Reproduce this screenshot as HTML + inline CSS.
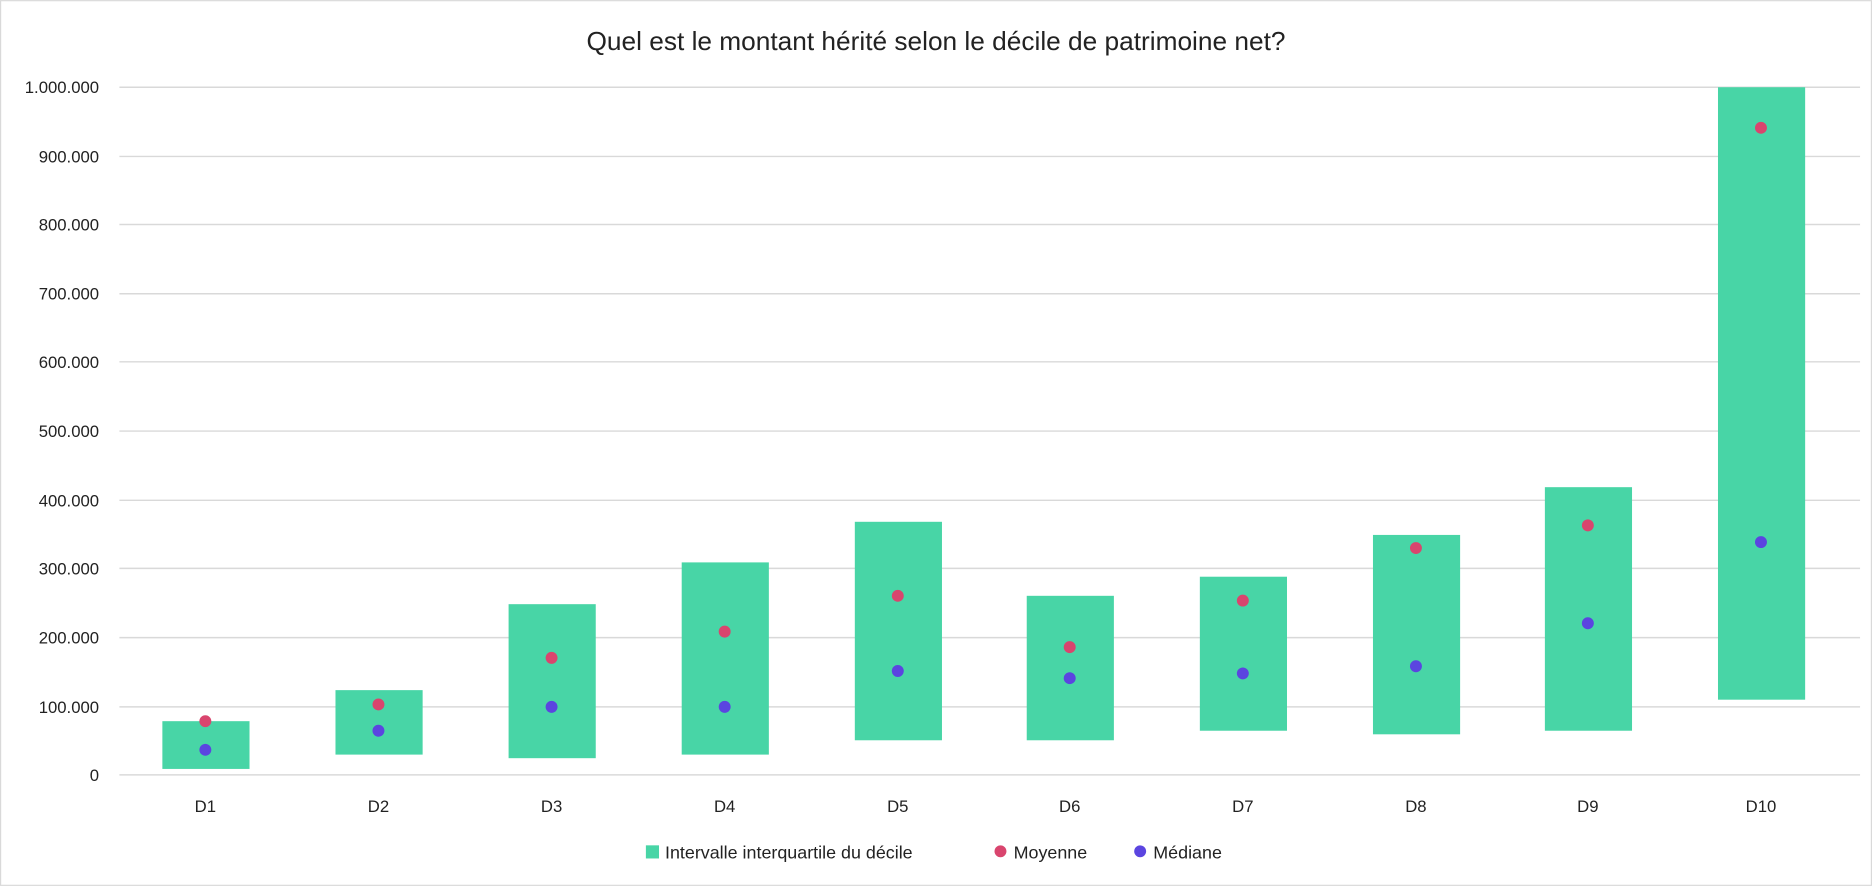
<!DOCTYPE html>
<html><head><meta charset="utf-8"><style>
html,body{margin:0;padding:0;background:#fff;}
svg{display:block;font-family:"Liberation Sans",sans-serif;}
</style></head><body>
<svg width="1872" height="886" viewBox="0 0 1568 742" xmlns="http://www.w3.org/2000/svg">
<rect x="0.5" y="0.5" width="1567" height="741" fill="#fff" stroke="#d9d9d9"/>
<text x="784" y="42" text-anchor="middle" font-size="22" fill="#222">Quel est le montant hérité selon le décile de patrimoine net?</text>
<g stroke="#d9d9d9" stroke-width="1.2">
<line x1="100" x2="1558" y1="73" y2="73"/><line x1="100" x2="1558" y1="131" y2="131"/>
<line x1="100" x2="1558" y1="188" y2="188"/><line x1="100" x2="1558" y1="246" y2="246"/>
<line x1="100" x2="1558" y1="303" y2="303"/><line x1="100" x2="1558" y1="361" y2="361"/>
<line x1="100" x2="1558" y1="419" y2="419"/><line x1="100" x2="1558" y1="476" y2="476"/>
<line x1="100" x2="1558" y1="534" y2="534"/><line x1="100" x2="1558" y1="592" y2="592"/>
<line x1="100" x2="1558" y1="649" y2="649"/>
</g>
<g font-size="14" fill="#222" text-anchor="end">
<text x="83" y="78">1.000.000</text><text x="83" y="136">900.000</text><text x="83" y="193">800.000</text>
<text x="83" y="251">700.000</text><text x="83" y="308">600.000</text><text x="83" y="366">500.000</text>
<text x="83" y="424">400.000</text><text x="83" y="481">300.000</text><text x="83" y="539">200.000</text>
<text x="83" y="597">100.000</text><text x="83" y="654">0</text>
</g>
<g fill="#48d5a6">
<rect x="136" y="604" width="73" height="40"/>
<rect x="281" y="578" width="73" height="54"/>
<rect x="426" y="506" width="73" height="129"/>
<rect x="571" y="471" width="73" height="161"/>
<rect x="716" y="437" width="73" height="183"/>
<rect x="860" y="499" width="73" height="121"/>
<rect x="1005" y="483" width="73" height="129"/>
<rect x="1150" y="448" width="73" height="167"/>
<rect x="1294" y="408" width="73" height="204"/>
<rect x="1439" y="73" width="73" height="513"/>
</g>
<g fill="#d9456e">
<circle cx="172" cy="604" r="5"/><circle cx="317" cy="590" r="5"/><circle cx="462" cy="551" r="5"/>
<circle cx="607" cy="529" r="5"/><circle cx="752" cy="499" r="5"/><circle cx="896" cy="542" r="5"/>
<circle cx="1041" cy="503" r="5"/><circle cx="1186" cy="459" r="5"/><circle cx="1330" cy="440" r="5"/>
<circle cx="1475" cy="107" r="5"/>
</g>
<g fill="#5b45e0">
<circle cx="172" cy="628" r="5"/><circle cx="317" cy="612" r="5"/><circle cx="462" cy="592" r="5"/>
<circle cx="607" cy="592" r="5"/><circle cx="752" cy="562" r="5"/><circle cx="896" cy="568" r="5"/>
<circle cx="1041" cy="564" r="5"/><circle cx="1186" cy="558" r="5"/><circle cx="1330" cy="522" r="5"/>
<circle cx="1475" cy="454" r="5"/>
</g>
<g font-size="14" fill="#222" text-anchor="middle">
<text x="172" y="680">D1</text><text x="317" y="680">D2</text><text x="462" y="680">D3</text>
<text x="607" y="680">D4</text><text x="752" y="680">D5</text><text x="896" y="680">D6</text>
<text x="1041" y="680">D7</text><text x="1186" y="680">D8</text><text x="1330" y="680">D9</text>
<text x="1475" y="680">D10</text>
</g>
<g font-size="15" fill="#222">
<rect x="541" y="708" width="11" height="11" fill="#48d5a6"/>
<text x="557" y="719">Intervalle interquartile du décile</text>
<circle cx="838" cy="713" r="5" fill="#d9456e"/>
<text x="849" y="719">Moyenne</text>
<circle cx="955" cy="713" r="5" fill="#5b45e0"/>
<text x="966" y="719">Médiane</text>
</g>
</svg>
</body></html>
